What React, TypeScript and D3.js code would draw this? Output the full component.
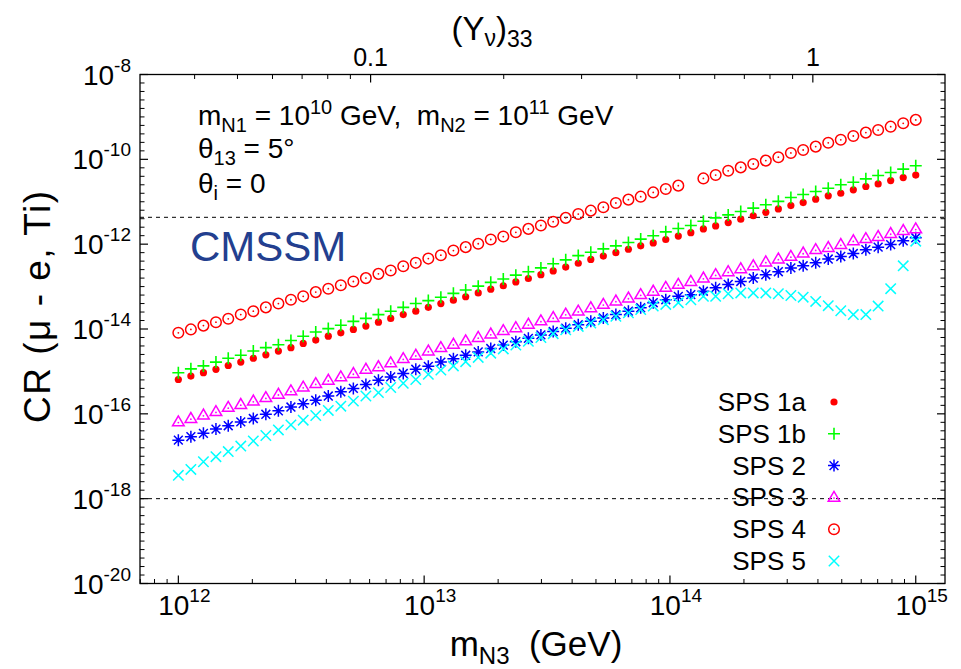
import React from "react";
import * as d3 from "d3";

// log10 of m_N3 (GeV) sampling points
const logM = [
  12.0, 12.051, 12.102, 12.153, 12.203, 12.254, 12.305, 12.356, 12.407, 12.458,
  12.508, 12.559, 12.61, 12.661, 12.712, 12.763, 12.814, 12.864, 12.915, 12.966,
  13.017, 13.068, 13.119, 13.169, 13.22, 13.271, 13.322, 13.373, 13.424, 13.475,
  13.525, 13.576, 13.627, 13.678, 13.729, 13.78, 13.831, 13.881, 13.932, 13.983,
  14.034, 14.085, 14.136, 14.186, 14.237, 14.288, 14.339, 14.39, 14.441, 14.492,
  14.542, 14.593, 14.644, 14.695, 14.746, 14.797, 14.847, 14.898, 14.949, 15.0,
];

// log10 CR(mu-e, Ti) per benchmark point
const sps1aLog = [
  -15.19, -15.11, -15.03, -14.95, -14.86, -14.78, -14.69, -14.61, -14.52, -14.44,
  -14.34, -14.26, -14.17, -14.09, -14.01, -13.93, -13.84, -13.75, -13.66, -13.58,
  -13.49, -13.4, -13.32, -13.24, -13.15, -13.06, -12.98, -12.89, -12.81, -12.72,
  -12.63, -12.54, -12.45, -12.36, -12.28, -12.2, -12.12, -12.04, -11.97, -11.89,
  -11.81, -11.73, -11.64, -11.57, -11.49, -11.41, -11.33, -11.25, -11.17, -11.09,
  -11.02, -10.94, -10.86, -10.8, -10.72, -10.64, -10.58, -10.5, -10.43, -10.37,
];
const sps1bLog = [
  -15.03, -14.94, -14.87, -14.78, -14.69, -14.62, -14.52, -14.44, -14.37, -14.27,
  -14.17, -14.07, -13.99, -13.91, -13.82, -13.75, -13.66, -13.58, -13.49, -13.4,
  -13.33, -13.25, -13.16, -13.08, -12.99, -12.9, -12.82, -12.73, -12.65, -12.56,
  -12.46, -12.37, -12.27, -12.19, -12.11, -12.04, -11.96, -11.88, -11.8, -11.71,
  -11.63, -11.56, -11.46, -11.38, -11.31, -11.23, -11.15, -11.07, -10.99, -10.9,
  -10.83, -10.76, -10.68, -10.6, -10.54, -10.46, -10.38, -10.31, -10.23, -10.15,
];
const sps2Log = [
  -16.62, -16.54, -16.46, -16.36, -16.28, -16.19, -16.11, -16.01, -15.93, -15.84,
  -15.76, -15.68, -15.58, -15.48, -15.4, -15.31, -15.21, -15.13, -15.05, -14.95,
  -14.88, -14.78, -14.7, -14.62, -14.54, -14.46, -14.38, -14.3, -14.22, -14.14,
  -14.06, -13.98, -13.9, -13.82, -13.74, -13.66, -13.58, -13.5, -13.38, -13.31,
  -13.23, -13.19, -13.11, -13.03, -12.95, -12.88, -12.8, -12.72, -12.65, -12.56,
  -12.51, -12.44, -12.35, -12.29, -12.22, -12.13, -12.07, -12.01, -11.92, -11.85,
];
const sps3Log = [
  -16.19, -16.11, -16.03, -15.95, -15.85, -15.78, -15.7, -15.62, -15.54, -15.46,
  -15.37, -15.29, -15.21, -15.13, -15.05, -14.95, -14.89, -14.8, -14.7, -14.62,
  -14.52, -14.44, -14.36, -14.28, -14.2, -14.12, -14.04, -13.97, -13.89, -13.81,
  -13.73, -13.65, -13.58, -13.5, -13.42, -13.34, -13.27, -13.19, -13.11, -13.02,
  -12.95, -12.88, -12.8, -12.72, -12.65, -12.58, -12.51, -12.42, -12.35, -12.29,
  -12.21, -12.13, -12.08, -12.01, -11.92, -11.87, -11.82, -11.75, -11.68, -11.64,
];
const sps4Log = [
  -14.09, -14.01, -13.92, -13.84, -13.76, -13.66, -13.58, -13.49, -13.4, -13.31,
  -13.23, -13.13, -13.05, -12.97, -12.88, -12.8, -12.7, -12.62, -12.52, -12.44,
  -12.34, -12.26, -12.15, -12.07, -11.99, -11.89, -11.82, -11.72, -11.64, -11.56,
  -11.47, -11.38, -11.29, -11.21, -11.13, -11.03, -10.95, -10.88, -10.78, -10.7,
  -10.62, null, -10.45, -10.37, -10.27, -10.19, -10.11, -10.03, -9.95, -9.85,
  -9.78, -9.7, -9.61, -9.54, -9.45, -9.37, -9.31, -9.23, -9.15, -9.07,
];
const sps5Log = [
  -17.45, -17.31, -17.13, -17.01, -16.89, -16.76, -16.64, -16.51, -16.38, -16.26,
  -16.15, -16.04, -15.92, -15.82, -15.7, -15.58, -15.5, -15.38, -15.28, -15.19,
  -15.07, -14.97, -14.87, -14.77, -14.67, -14.57, -14.47, -14.38, -14.29, -14.2,
  -14.11, -14.02, -13.94, -13.86, -13.78, -13.7, -13.62, -13.54, -13.46, -13.42,
  -13.38, -13.31, -13.23, -13.23, -13.17, -13.15, -13.15, -13.15, -13.17, -13.21,
  -13.25, -13.35, -13.45, -13.57, -13.66, -13.66, -13.46, -13.05, -12.51, -11.93,
];

const legendLabels = ["SPS 1a", "SPS 1b", "SPS 2", "SPS 3", "SPS 4", "SPS 5"];
const yMajorExps = [-8, -10, -12, -14, -16, -18, -20];
const xMajorExps = [12, 13, 14, 15];
const topMajor = [0.1, 1];
const boundNow = 4.3e-12;
const boundFuture = 1e-18;

const W = 961;
const H = 669;
const L = 140;
const R = 945;
const T = 74.5;
const B = 583.5;
const FONT = "'Liberation Sans', Arial, Helvetica, sans-serif";

const x = d3.scaleLog().domain([10 ** 11.844, 10 ** 15.119]).range([L, R]);
const y = d3.scaleLog().domain([1e-20, 1e-8]).range([B, T]);
const yuk = d3.scaleLog().domain([0.0301, 1.99]).range([L, R]);

const series = [
  { values: sps1aLog, color: "#ff0000", shape: "dot" },
  { values: sps1bLog, color: "#00ff00", shape: "plus" },
  { values: sps2Log, color: "#0000ff", shape: "star" },
  { values: sps3Log, color: "#ff00ff", shape: "tri" },
  { values: sps4Log, color: "#ff0000", shape: "circ" },
  { values: sps5Log, color: "#00ffff", shape: "cross" },
];

function Marker({ shape, cx, cy, color }: { shape: string; cx: number; cy: number; color: string }) {
  if (shape === "dot") return <circle cx={cx} cy={cy} r={3.6} fill={color} />;
  if (shape === "plus")
    return (
      <path d={`M${cx - 6},${cy}H${cx + 6}M${cx},${cy - 6}V${cy + 6}`} stroke={color} strokeWidth={1.6} fill="none" />
    );
  if (shape === "star")
    return (
      <path
        d={`M${cx - 6},${cy}H${cx + 6}M${cx},${cy - 6}V${cy + 6}M${cx - 4.4},${cy - 4.4}L${cx + 4.4},${cy + 4.4}M${cx - 4.4},${cy + 4.4}L${cx + 4.4},${cy - 4.4}`}
        stroke={color}
        strokeWidth={1.5}
        fill="none"
      />
    );
  if (shape === "tri")
    return (
      <g>
        <polygon
          points={`${cx},${cy - 6} ${cx - 5.8},${cy + 3.9} ${cx + 5.8},${cy + 3.9}`}
          stroke={color}
          strokeWidth={1.5}
          fill="none"
        />
        <circle cx={cx} cy={cy + 0.7} r={0.9} fill={color} />
      </g>
    );
  if (shape === "circ")
    return (
      <g>
        <circle cx={cx} cy={cy} r={5.3} stroke={color} strokeWidth={1.5} fill="none" />
        <circle cx={cx} cy={cy} r={0.9} fill={color} />
      </g>
    );
  return (
    <path
      d={`M${cx - 5.2},${cy - 5.2}L${cx + 5.2},${cy + 5.2}M${cx - 5.2},${cy + 5.2}L${cx + 5.2},${cy - 5.2}`}
      stroke={color}
      strokeWidth={1.5}
      fill="none"
    />
  );
}

export default function App() {
  // minor ticks on the CR axis every 0.2 decade
  const yMinor = d3.range(-20, -7.99, 0.2).filter((e) => Math.abs(e - Math.round(e / 2) * 2) > 0.05);
  const xMinor: number[] = [];
  for (let n = 11; n <= 15; n++) for (let k = 2; k <= 9; k++) xMinor.push(k * 10 ** n);
  const xMinorIn = xMinor.filter((v) => v > x.domain()[0] && v < x.domain()[1]);
  const topMinor: number[] = [];
  for (let n = -2; n <= 0; n++) for (let k = 2; k <= 9; k++) topMinor.push(k * 10 ** n);
  const topMinorIn = topMinor.filter((v) => v > yuk.domain()[0] && v < yuk.domain()[1]);

  const legendX = 834;
  const legendY0 = 402;
  const legendDy = 31.8;

  return (
    <svg width={W} height={H} style={{ position: "absolute", left: 0, top: 0, background: "#fff" }} fontFamily={FONT}>
      <rect x={0} y={0} width={W} height={H} fill="#fff" />

      {/* limits */}
      {[boundNow, boundFuture].map((b, i) => (
        <line key={i} x1={L} x2={R} y1={y(b)} y2={y(b)} stroke="#000" strokeWidth={1} strokeDasharray="4,4" />
      ))}

      {/* y ticks */}
      {yMajorExps.map((e) => (
        <g key={e}>
          <line x1={L} x2={L + 8} y1={y(10 ** e)} y2={y(10 ** e)} stroke="#000" strokeWidth={1.2} />
          <line x1={R} x2={R - 8} y1={y(10 ** e)} y2={y(10 ** e)} stroke="#000" strokeWidth={1.2} />
          <text x={131} y={y(10 ** e) + 10} textAnchor="end" fontSize={28}>
            10<tspan fontSize={19} dy={-13}>{e}</tspan>
          </text>
        </g>
      ))}
      {yMinor.map((e, i) => (
        <g key={i}>
          <line x1={L} x2={L + 4.5} y1={y(10 ** e)} y2={y(10 ** e)} stroke="#000" strokeWidth={1} />
          <line x1={R} x2={R - 4.5} y1={y(10 ** e)} y2={y(10 ** e)} stroke="#000" strokeWidth={1} />
        </g>
      ))}

      {/* x ticks */}
      {xMajorExps.map((e) => (
        <g key={e}>
          <line x1={x(10 ** e)} x2={x(10 ** e)} y1={B} y2={B - 8} stroke="#000" strokeWidth={1.2} />
          <text x={x(10 ** e) + 6} y={615} textAnchor="middle" fontSize={28}>
            10<tspan fontSize={19} dy={-13}>{e}</tspan>
          </text>
        </g>
      ))}
      {xMinorIn.map((v, i) => (
        <line key={i} x1={x(v)} x2={x(v)} y1={B} y2={B - 4.5} stroke="#000" strokeWidth={1} />
      ))}

      {/* top Yukawa axis */}
      {topMajor.map((v) => (
        <g key={v}>
          <line x1={yuk(v)} x2={yuk(v)} y1={T} y2={T + 8} stroke="#000" strokeWidth={1.2} />
          <text x={yuk(v)} y={66} textAnchor="middle" fontSize={25}>
            {v}
          </text>
        </g>
      ))}
      {topMinorIn.map((v, i) => (
        <line key={i} x1={yuk(v)} x2={yuk(v)} y1={T} y2={T + 4.5} stroke="#000" strokeWidth={1} />
      ))}

      {/* series */}
      {series.map((s, si) => (
        <g key={si}>
          {s.values.map((v, i) =>
            v === null ? null : (
              <Marker key={i} shape={s.shape} cx={x(10 ** logM[i])} cy={y(10 ** v)} color={s.color} />
            )
          )}
        </g>
      ))}

      {/* legend */}
      {legendLabels.map((lab, i) => (
        <g key={lab}>
          <text x={806} y={legendY0 + i * legendDy + 9} textAnchor="end" fontSize={26}>
            {lab}
          </text>
          <Marker shape={series[i].shape} cx={legendX} cy={legendY0 + i * legendDy} color={series[i].color} />
        </g>
      ))}

      {/* frame */}
      <rect x={L} y={T} width={R - L} height={B - T} fill="none" stroke="#000" strokeWidth={1.3} />

      {/* annotations */}
      <text x={198} y={125} fontSize={28} style={{ whiteSpace: "pre" }}>
        m<tspan fontSize={20} dy={7}>N1</tspan>
        <tspan dy={-7}> = 10</tspan>
        <tspan fontSize={20} dy={-11}>10</tspan>
        <tspan dy={11}> GeV,  m</tspan>
        <tspan fontSize={20} dy={7}>N2</tspan>
        <tspan dy={-7}> = 10</tspan>
        <tspan fontSize={20} dy={-11}>11</tspan>
        <tspan dy={11}> GeV</tspan>
      </text>
      <text x={198} y={158} fontSize={28} style={{ whiteSpace: "pre" }}>
        θ<tspan fontSize={20} dy={7}>13</tspan>
        <tspan dy={-7}> = 5°</tspan>
      </text>
      <text x={198} y={193} fontSize={28} style={{ whiteSpace: "pre" }}>
        θ<tspan fontSize={20} dy={7}>i</tspan>
        <tspan dy={-7}> = 0</tspan>
      </text>
      <text x={190} y={261} fontSize={42} fill="#233f8f">
        CMSSM
      </text>

      {/* axis titles */}
      <text x={492} y={40} textAnchor="middle" fontSize={33}>
        (Y<tspan fontSize={23} dy={6}>ν</tspan>
        <tspan dy={-6}>)</tspan>
        <tspan fontSize={23} dy={7}>33</tspan>
      </text>
      <text x={536} y={656} textAnchor="middle" fontSize={35} style={{ whiteSpace: "pre" }}>
        m<tspan fontSize={24} dy={8}>N3</tspan>
        <tspan dy={-8}>  (GeV)</tspan>
      </text>
      <text
        transform="translate(50,307) rotate(-90)"
        textAnchor="middle"
        fontSize={37}
        textLength={232}
        lengthAdjust="spacing"
        style={{ whiteSpace: "pre" }}
      >
        CR (μ - e, Ti)
      </text>
    </svg>
  );
}
